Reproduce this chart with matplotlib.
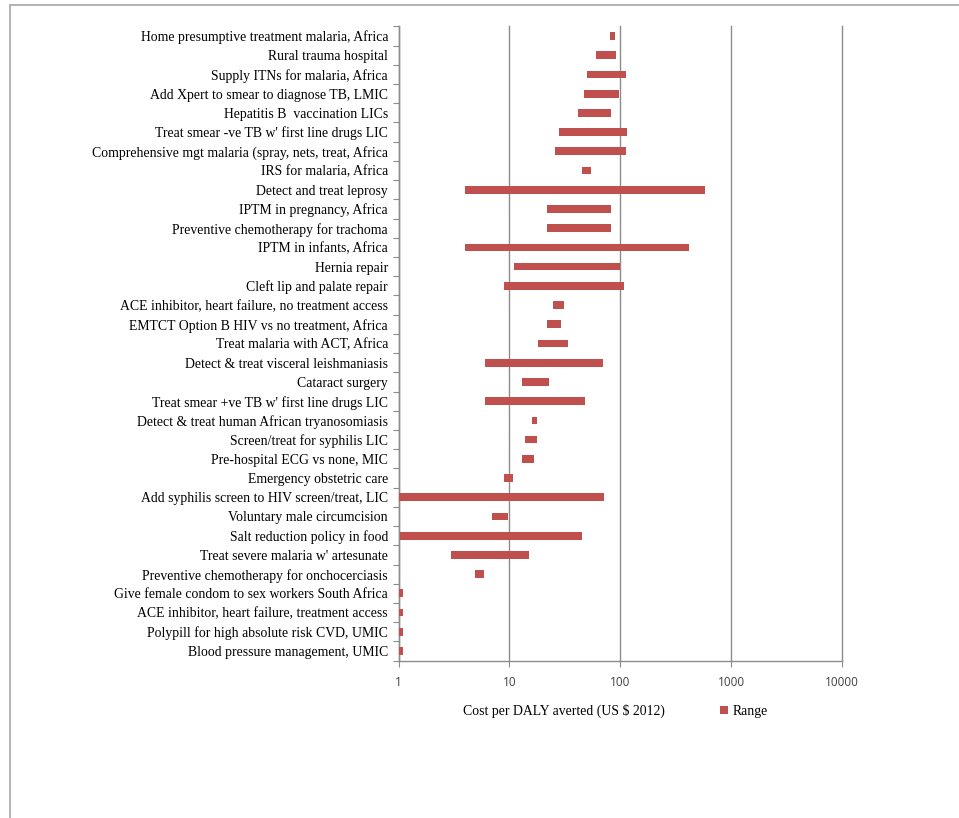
import matplotlib
matplotlib.use("Agg")
import matplotlib.pyplot as plt
from matplotlib.patches import Patch, Rectangle
from matplotlib.ticker import FixedLocator, NullFormatter, FixedFormatter

# Interventions, top to bottom
interventions = [
    "Home presumptive treatment malaria, Africa",
    "Rural trauma hospital",
    "Supply ITNs for malaria, Africa",
    "Add Xpert to smear to diagnose TB, LMIC",
    "Hepatitis B  vaccination LICs",
    "Treat smear -ve TB w' first line drugs LIC",
    "Comprehensive mgt malaria (spray, nets, treat, Africa",
    "IRS for malaria, Africa",
    "Detect and treat leprosy",
    "IPTM in pregnancy, Africa",
    "Preventive chemotherapy for trachoma",
    "IPTM in infants, Africa",
    "Hernia repair",
    "Cleft lip and palate repair",
    "ACE inhibitor, heart failure, no treatment access",
    "EMTCT Option B HIV vs no treatment, Africa",
    "Treat malaria with ACT, Africa",
    "Detect & treat visceral leishmaniasis",
    "Cataract surgery",
    "Treat smear +ve TB w' first line drugs LIC",
    "Detect & treat human African tryanosomiasis",
    "Screen/treat for syphilis LIC",
    "Pre-hospital ECG vs none, MIC",
    "Emergency obstetric care",
    "Add syphilis screen to HIV screen/treat, LIC",
    "Voluntary male circumcision",
    "Salt reduction policy in food",
    "Treat severe malaria w' artesunate",
    "Preventive chemotherapy for onchocerciasis",
    "Give female condom to sex workers South Africa",
    "ACE inhibitor, heart failure, treatment access",
    "Polypill for high absolute risk CVD, UMIC",
    "Blood pressure management, UMIC",
]

# Cost per DALY averted (US$ 2012): lower and upper bounds of each range
cost_low = [80, 60, 50, 47, 42, 28, 26, 45, 4, 22, 22, 4, 11, 9, 24.5, 22,
            18, 6, 13, 6, 16, 13.7, 12.9, 8.9, 1, 7, 1.03, 2.95, 4.9,
            1, 1, 1, 1]
cost_high = [90, 92, 112, 97, 83, 116, 112, 54, 580, 83, 83, 420, 99, 107, 31, 29.5,
             34, 70, 23, 48.5, 17.7, 17.8, 16.6, 10.8, 72, 9.8, 45, 15, 5.9,
             1.1, 1.1, 1.1, 1.1]

x_ticks = [1, 10, 100, 1000, 10000]
x_ticklabels = ["1", "10", "100", "1000", "10000"]

axis_title = "Cost per DALY averted (US $ 2012)"
series_name = "Range"

BAR = "#C0504D"
GRID = "#8C8C8C"

fig = plt.figure(figsize=(9.59, 8.18), dpi=100)

# thin frame around the chart area
fig.patches.append(Rectangle((10 / 959, -0.05), 1.1, 1 - 5 / 818 + 0.05,
                             transform=fig.transFigure, fill=False,
                             edgecolor="#A6A6A6", linewidth=1.2))

ax = fig.add_axes([398.5 / 959, 1 - 660.6 / 818, (842 - 398.5) / 959, (660.6 - 26.4) / 818])

n = len(interventions)
ypos = list(range(n))
widths = [h - l for l, h in zip(cost_low, cost_high)]
ax.barh(ypos, widths, left=cost_low, height=0.4, color=BAR, edgecolor="none", zorder=3)

ax.set_xscale("log")
ax.set_xlim(1, 10000)
ax.set_ylim(n - 0.5, -0.5)

ax.xaxis.set_major_locator(FixedLocator(x_ticks))
ax.xaxis.set_major_formatter(FixedFormatter(x_ticklabels))
ax.xaxis.set_minor_locator(FixedLocator([]))
ax.grid(axis="x", which="major", color=GRID, linewidth=1.0, zorder=0)
for gl in ax.get_xgridlines():
    gl.set_clip_on(False)

ax.set_yticks(ypos)
ax.set_yticklabels(interventions, fontfamily="Liberation Serif", fontsize=9.9)
ax.yaxis.set_minor_locator(FixedLocator([i - 0.5 for i in range(n + 1)]))
ax.yaxis.set_minor_formatter(NullFormatter())
ax.tick_params(axis="y", which="major", length=0, pad=7.5)
ax.tick_params(axis="y", which="minor", length=4, color=GRID, width=0.8)
ax.tick_params(axis="x", which="major", length=4, color=GRID, width=0.8, pad=7,
               labelsize=8.5, labelcolor="#404040")
for lab in ax.get_xticklabels():
    lab.set_fontfamily("Open Sans")

for side in ("top", "right"):
    ax.spines[side].set_visible(False)
for side in ("left", "bottom"):
    ax.spines[side].set_color(GRID)
    ax.spines[side].set_linewidth(1.0)

handles = [Patch(facecolor="none", edgecolor="none"), Patch(facecolor=BAR, edgecolor="none")]
fig.legend(handles, [axis_title, series_name], ncol=2, frameon=False,
           loc="center", bbox_to_anchor=(609 / 959, 1 - 711 / 818),
           prop={"family": "Liberation Serif", "size": 9.9},
           handlelength=0.6, handleheight=0.6, handletextpad=0.3, columnspacing=4.0)

fig.savefig("out.png", dpi=100, facecolor="white")
